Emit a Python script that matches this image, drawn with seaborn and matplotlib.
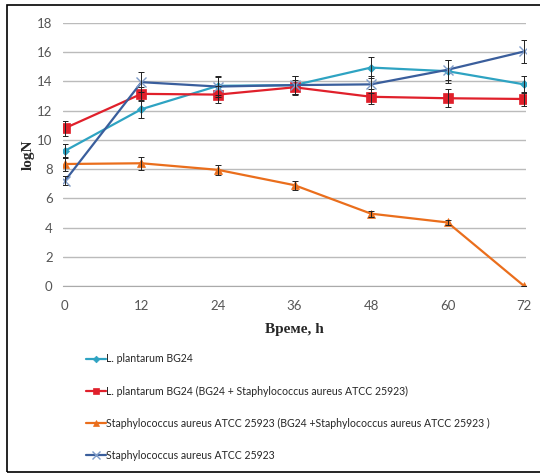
import pandas as pd
import matplotlib.pyplot as plt
import matplotlib.patches as patches
import seaborn as sns

# time points (h)
hours = [0, 12, 24, 36, 48, 60, 72]

# logN values
lp = [9.25, 12.1, 13.7, 13.75, 14.95, 14.7, 13.8]
lp_err = [0.5, 0.6, 0.6, 0.6, 0.7, 0.8, 0.6]
lp_mix = [10.8, 13.15, 13.1, 13.6, 12.95, 12.85, 12.8]
lp_mix_err = [0.5, 0.5, 0.6, 0.5, 0.5, 0.6, 0.45]
sa_mix = [8.35, 8.4, 7.95, 6.9, 4.95, 4.35, 0.0]
sa_mix_err = [0.45, 0.45, 0.35, 0.3, 0.2, 0.2, 0.0]
sa = [7.2, 13.95, 13.65, 13.75, 13.8, 14.8, 16.05]
sa_err = [0.3, 0.7, 0.7, 0.6, 0.6, 0.7, 0.8]

labels = ["L. plantarum BG24",
          "L. plantarum BG24 (BG24 + Staphylococcus aureus ATCC 25923)",
          "Staphylococcus aureus ATCC 25923 (BG24 +Staphylococcus aureus ATCC 25923 )",
          "Staphylococcus aureus ATCC 25923"]
series = [lp, lp_mix, sa_mix, sa]
errors = [lp_err, lp_mix_err, sa_mix_err, sa_err]
colors = ["#2EA3C2", "#E0202B", "#EA6E1C", "#3A5E9C"]
markers = ["D", "s", "^", "x"]
msizes = [4.5, 6.5, 6, 7]

sns.set_style("white")
plt.rcParams['font.family'] = ['Lato', 'DejaVu Sans']

fig = plt.figure(figsize=(5.4, 4.75), dpi=100)
ax = fig.add_axes([63/540, 1-286/475, 463/540, 263/475])

#frame around the chart
fig.patches.append(patches.Rectangle((7/540, 3/475), 1.2, 467/475, transform=fig.transFigure,
                                     fill=False, edgecolor='black', linewidth=1.2))

for vals, err, lab, col, mk, ms in zip(series, errors, labels, colors, markers, msizes):
    df = pd.DataFrame({'h': hours, 'logN': vals})
    mec = '#7F9CC8' if mk == 'x' else col
    sns.lineplot(data=df, x='h', y='logN', ax=ax, color=col, marker=mk, markersize=ms,
                 markeredgecolor=mec, markeredgewidth=1.0 if mk == 'x' else 0.5,
                 linewidth=1.6, label=lab, legend=False, zorder=2)
    ax.errorbar(hours, vals, yerr=err, fmt='none', ecolor='#222222', elinewidth=0.7,
                capsize=2.5, capthick=0.7, zorder=3)

ax.set_xlim(-0.3, 72.3)
ax.set_ylim(0, 18)
ax.set_xticks(hours)
ax.set_yticks(range(0, 19, 2))
ax.yaxis.grid(True, color='#BBBBBB', linewidth=1)
ax.set_axisbelow(True)
for s in ['top', 'right', 'left']:
    ax.spines[s].set_visible(False)
ax.spines['bottom'].set_color('#AAAAAA')
ax.tick_params(axis='both', colors='#888888', labelsize=9.5, length=4, width=0.8, direction='out')
ax.tick_params(axis='x', pad=6)
for t in ax.get_xticklabels() + ax.get_yticklabels():
    t.set_color('#555555')

ax.set_xlabel('Време, h', fontfamily='Liberation Serif', fontweight='bold', fontsize=11, labelpad=8)
ax.set_ylabel('logN', fontfamily='Liberation Serif', fontweight='bold', fontsize=11, labelpad=2)

handles, labs = ax.get_legend_handles_labels()
fig.legend(handles, labs, loc='upper left', bbox_to_anchor=(76/540, 1-344/475), frameon=False,
           fontsize=7.6, labelspacing=2.0, handlelength=1.9, handletextpad=0.05, markerscale=0.75)

fig.savefig('out.png', dpi=100)
